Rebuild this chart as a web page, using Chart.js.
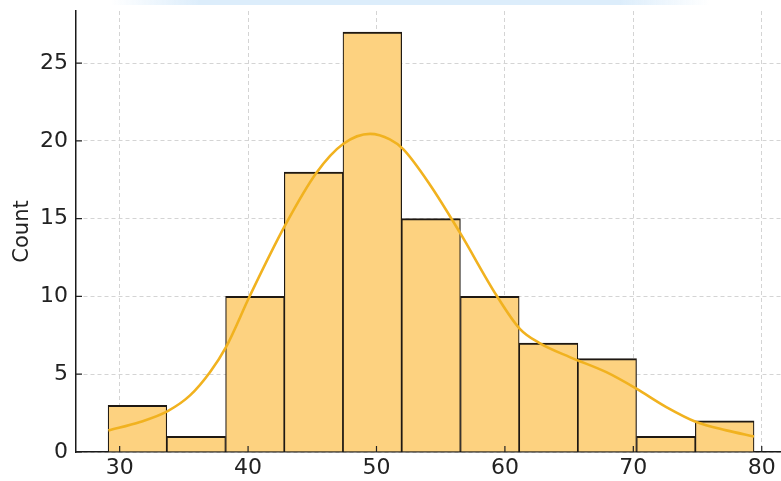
<!DOCTYPE html>
<html>
<head>
<meta charset="utf-8">
<script src="https://cdn.jsdelivr.net/npm/chart.js@4.4.1/dist/chart.umd.min.js"></script>
<style>
    html, body { margin: 0; padding: 0; background: #fff; }
    #wrap { position: relative; width: 781px; height: 481px; overflow: hidden; }
    #band {
        position: absolute; left: 110px; top: 0; width: 600px; height: 5px;
        background: linear-gradient(to right, rgba(220,238,252,0), #dcedfb 15%, #dcedfb 85%, rgba(220,238,252,0));
    }
</style>
</head>
<body>
<div id="wrap">
    <canvas id="histChart" width="781" height="481"></canvas>
    <div id="band"></div>
</div>
<script>
// histogram bins (edges) and counts
const binEdges = [29.1, 33.67, 38.25, 42.82, 47.39, 51.96, 56.54, 61.11, 65.68, 70.25, 74.83, 79.4];
const counts = [3, 1, 10, 18, 27, 15, 10, 7, 6, 1, 2];

// KDE curve, scaled to counts
const kdeX = [29.12, 31.59, 33.74, 35.48, 37.03, 38.28, 40.15, 42.87, 45.34, 47.4, 49.5, 51.04, 52.08,
    54.15, 56.5, 59.35, 61.16, 62.7, 65.05, 67.9, 70.24, 72.57, 74.9, 77.25, 79.4];
const kdeY = [1.39, 1.93, 2.63, 3.64, 5.13, 6.74, 10.06, 14.55, 17.97, 19.8, 20.45, 20.1, 19.47,
    17.2, 14.1, 10.06, 7.92, 7.0, 6.1, 5.13, 4.07, 2.89, 1.93, 1.39, 1.0];

const xTicks = [30, 40, 50, 60, 70, 80];
const yTicks = [0, 5, 10, 15, 20, 25];
const yLabel = "Count";

// matplotlib-style ticks pointing into the plot
const innerTicks = {
    id: "innerTicks",
    afterDatasetsDraw(chart) {
        const { ctx, scales: { x, y } } = chart;
        ctx.save();
        ctx.strokeStyle = "#222";
        ctx.lineWidth = 1.2;
        ctx.beginPath();
        x.ticks.forEach((t) => {
            const px = x.getPixelForValue(t.value);
            ctx.moveTo(px, y.bottom);
            ctx.lineTo(px, y.bottom - 6);
        });
        y.ticks.forEach((t) => {
            const py = y.getPixelForValue(t.value);
            ctx.moveTo(x.left, py);
            ctx.lineTo(x.left + 6, py);
        });
        ctx.stroke();
        ctx.restore();
    },
};

document.addEventListener("DOMContentLoaded", () => {
    const ctx = document.getElementById("histChart").getContext("2d");

    const barData = counts.map((c, i) => ({ x: (binEdges[i] + binEdges[i + 1]) / 2, y: c }));
    const kdeData = kdeX.map((x, i) => ({ x: x, y: kdeY[i] }));

    const gridStyle = {
        color: "#d4d4d4",
        lineWidth: 1,
        drawTicks: false,
        offset: false,
    };

    new Chart(ctx, {
        data: {
            datasets: [
                {
                    type: "line",
                    data: kdeData,
                    borderColor: "#f1b21f",
                    borderWidth: 2.6,
                    pointRadius: 0,
                    fill: false,
                    cubicInterpolationMode: "monotone",
                    order: 0,
                },
                {
                    type: "bar",
                    data: barData,
                    backgroundColor: "#fdd280",
                    borderColor: "#1e1812",
                    borderWidth: { top: 2, left: 1.2, right: 1.2, bottom: 0 },
                    borderSkipped: false,
                    barPercentage: 1,
                    categoryPercentage: 1,
                    order: 1,
                },
            ],
        },
        options: {
            responsive: false,
            animation: false,
            layout: { padding: { top: 11, right: 0, left: 0, bottom: 0 } },
            plugins: { legend: { display: false }, tooltip: { enabled: false } },
            scales: {
                x: {
                    type: "linear",
                    offset: false,
                    min: 26.6,
                    max: 81.5,
                    afterBuildTicks: (s) => { s.ticks = xTicks.map((v) => ({ value: v })); },
                    afterFit: (s) => { s.height = 29; s.paddingLeft = 0; s.paddingRight = 0; },
                    grid: gridStyle,
                    border: { display: true, color: "#1a1a1a", width: 1.5, dash: [4, 3] },
                    ticks: {
                        color: "#222",
                        font: { family: "DejaVu Sans", size: 22 },
                        padding: 3,
                        maxRotation: 0,
                    },
                },
                y: {
                    min: 0,
                    max: 28.35,
                    afterBuildTicks: (s) => { s.ticks = yTicks.map((v) => ({ value: v })); },
                    afterFit: (s) => { s.width = 76; s.paddingTop = 0; s.paddingBottom = 0; },
                    grid: gridStyle,
                    border: { display: true, color: "#1a1a1a", width: 1.5, dash: [4, 3] },
                    ticks: {
                        color: "#222",
                        font: { family: "DejaVu Sans", size: 22 },
                        padding: 8,
                    },
                    title: {
                        display: true,
                        text: yLabel,
                        color: "#222",
                        font: { family: "DejaVu Sans", size: 21 },
                        padding: { top: 10, bottom: 0 },
                    },
                },
            },
        },
        plugins: [innerTicks],
    });
});
</script>
</body>
</html>
